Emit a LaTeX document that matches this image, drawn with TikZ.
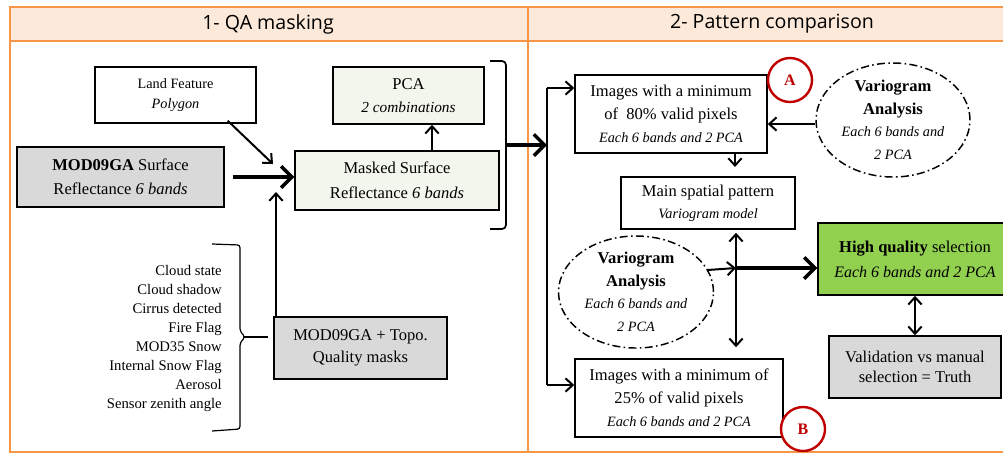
\documentclass[tikz,border=0pt]{standalone}
\usepackage{fontspec}
\setmainfont{Liberation Serif}
\newfontfamily\hdrfont{Open Sans}
\usetikzlibrary{arrows.meta,shapes.geometric,calc}
\definecolor{frameor}{HTML}{F79646}
\definecolor{hdrfill}{HTML}{FDE9D9}
\definecolor{boxgray}{HTML}{D9D9D9}
\definecolor{boxlgreen}{HTML}{F3F6EC}
\definecolor{boxgreen}{HTML}{92D050}
\definecolor{markred}{HTML}{C00000}
\newcommand\fbig{\fontsize{12.4}{17.5}\selectfont}
\newcommand\fsml{\fontsize{10.7}{15}\selectfont}
\newcommand\flst{\fontsize{11}{14.25}\selectfont}
\tikzset{
  framel/.style={draw=frameor, line width=1.8pt},
  pbox/.style={draw, line width=1.1pt, inner sep=0pt, align=center, font=\fbig},
  vario/.style={ellipse, draw, line width=1.1pt, inner sep=0pt, align=center, font=\fbig,
    dash pattern=on 6pt off 2.5pt on 1.2pt off 2.5pt},
  markc/.style={circle, draw=markred, line width=1.8pt, minimum size=33pt, inner sep=0pt,
    text=markred, font=\fontsize{12}{12}\selectfont\bfseries},
  thin/.style={line width=1.5pt, -{Straight Barb[length=5.5pt,width=10pt,line width=1.5pt]}},
  thinboth/.style={line width=1.5pt, {Straight Barb[length=5.5pt,width=10pt,line width=1.5pt]}-{Straight Barb[length=5.5pt,width=10pt,line width=1.5pt]}},
  thick/.style={line width=3.4pt, -{Straight Barb[length=8pt,width=16pt,line width=2.6pt]}},
  plainl/.style={line width=1.5pt}
}
\begin{document}
\begin{tikzpicture}[x=0.75pt,y=-0.75pt]
\useasboundingbox (0,0) rectangle (1003,455);
\clip (0,0) rectangle (1003,455);
% frame
\fill[white] (0,0) rectangle (1003,455);
\draw[framel, fill=hdrfill] (10,7) rectangle (1020,41);
\draw[framel] (10,41) rectangle (1020,452);
\draw[framel] (528,7) -- (528,452);
\node[font=\hdrfont\fontsize{14.7}{16}\selectfont] (h1) at (268,24) {1- QA masking};
\node[font=\hdrfont\fontsize{14.7}{16}\selectfont] (h2) at (772,24) {2- Pattern comparison};

% left panel
\node[pbox, minimum width=161pt*0.75, minimum height=56pt*0.75, font=\fontsize{10.7}{15.5}\selectfont] (land) at (175.5,95)
  {Land Feature\\\textit{Polygon}};
\node[pbox, fill=boxlgreen, minimum width=151pt*0.75, minimum height=57pt*0.75, font=\fontsize{12.4}{17.25}\selectfont] (pca) at (408.5,95.5)
  {PCA\\{\fontsize{11.5}{13}\selectfont\itshape 2 combinations}};
\node[pbox, fill=boxgray, minimum width=207pt*0.75, minimum height=60pt*0.75, font=\fontsize{12.4}{18}\selectfont] (mod) at (120.5,177)
  {\textbf{MOD09GA} Surface\\Reflectance \textit{6 bands}};
\node[pbox, fill=boxlgreen, minimum width=204pt*0.75, minimum height=59pt*0.75, font=\fontsize{12.4}{18.75}\selectfont] (masked) at (397,180.5)
  {Masked Surface\\Reflectance \textit{6 bands}};
\node[pbox, fill=boxgray, minimum width=173pt*0.75, minimum height=62pt*0.75, font=\fontsize{12.4}{16.5}\selectfont] (qa) at (360.5,348)
  {MOD09GA + Topo.\\Quality masks};
\node[anchor=east, align=right, inner sep=0pt, font=\flst] (lst) at (222,338.5)
  {Cloud state\\Cloud shadow\\Cirrus detected\\Fire Flag\\MOD35 Snow\\Internal Snow Flag\\Aerosol\\Sensor zenith angle};

\coordinate (mgL) at (273,164);
\coordinate (mgB) at (276,192);
\coordinate (brk) at (507,145);
\coordinate (brc) at (268,337);

\draw[thin] ($(land.south east)+(-29,-3)$) -- (mgL);
\draw[thick] ($(mod.east)+(8,0)$) -- (masked.west |- mod.east);
\draw[thin] (qa.north -| mgB) -- (mgB);
\draw[thin] (masked.north -| 432,0) -- (pca.south -| 432,0);
% bracket around PCA/masked
\draw[line width=1.3pt, rounded corners=3pt] (490,61) -- (506,61) -- (506,229) -- (490,229);
% brace of list
\draw[line width=0.9pt, rounded corners=2pt] (212,244) -- (240,245) -- (240,331) -- (245,337) -- (240,343) -- (240,429) -- (212,431);
\draw[line width=0.9pt] (244,337) -- (brc);

% right panel
\node[pbox, minimum width=192pt*0.75, minimum height=78pt*0.75, font=\fontsize{12.4}{17.25}\selectfont] (boxA) at (671,114)
  {Images with a minimum\\of~ 80\% valid pixels\\{\fsml\itshape Each 6 bands and 2 PCA}};
\node[pbox, minimum width=174pt*0.75, minimum height=52pt*0.75, font=\fontsize{12.4}{16.5}\selectfont] (main) at (708,203)
  {Main spatial pattern\\{\fsml\itshape Variogram model}};
\node[pbox, fill=boxgreen, minimum width=194pt*0.75, minimum height=72pt*0.75, font=\fontsize{12.4}{18.75}\selectfont] (green) at (915,259)
  {\textbf{High quality} selection\\{\itshape\fontsize{12}{14}\selectfont Each 6 bands and 2 PCA}};
\node[pbox, fill=boxgray, minimum width=172pt*0.75, minimum height=62pt*0.75, font=\fontsize{12.4}{15}\selectfont] (valid) at (915,367)
  {Validation vs manual\\selection = Truth};
\node[pbox, minimum width=208pt*0.75, minimum height=78pt*0.75, font=\fontsize{12.4}{17.25}\selectfont] (boxB) at (679,398)
  {Images with a minimum of\\25\% of valid pixels\\{\fsml\itshape Each 6 bands and 2 PCA}};
\node[vario, minimum width=154pt*0.75, minimum height=114pt*0.75, font=\fontsize{12.4}{16.9}\selectfont] (ellA) at (893,120)
  {\textbf{Variogram}\\\textbf{Analysis}\\{\fsml\itshape Each 6 bands and}\\{\fsml\itshape 2 PCA}};
\node[vario, minimum width=155pt*0.75, minimum height=104pt*0.75, font=\fontsize{12.4}{16.9}\selectfont] (ellB) at (636,292)
  {\textbf{Variogram}\\\textbf{Analysis}\\{\fsml\itshape Each 6 bands and}\\{\fsml\itshape 2 PCA}};
\node[markc, fill=white] (circA) at (790,80) {A};
\node[markc, fill=white] (circB) at (803,429) {B};

\coordinate (spl) at (547,145);
\coordinate (jn) at (736,268);
\draw[thick] (brk) -- (spl);
\draw[plainl] (547,88) -- (547,385);
\draw[thin] (547,88) -- (boxA.west |- 0,88);
\draw[thin] (547,385) -- (boxB.west |- 0,385);
\draw[thin] ($(ellA.west)+(0,4)$) -- (boxA.east |- 0,124);
\draw[thin] (boxA.south -| 735,0) -- (735,167);
\draw[thinboth] ($(main.south -| jn)+(0,3)$) -- ($(boxB.north -| jn)+(0,-11)$);
\draw[thin] (ellB.17.5) -- (jn);
\draw[thick] (jn) -- (green.west |- jn);
\draw[thinboth] (green.south) -- (valid.north);
\end{tikzpicture}
\end{document}
